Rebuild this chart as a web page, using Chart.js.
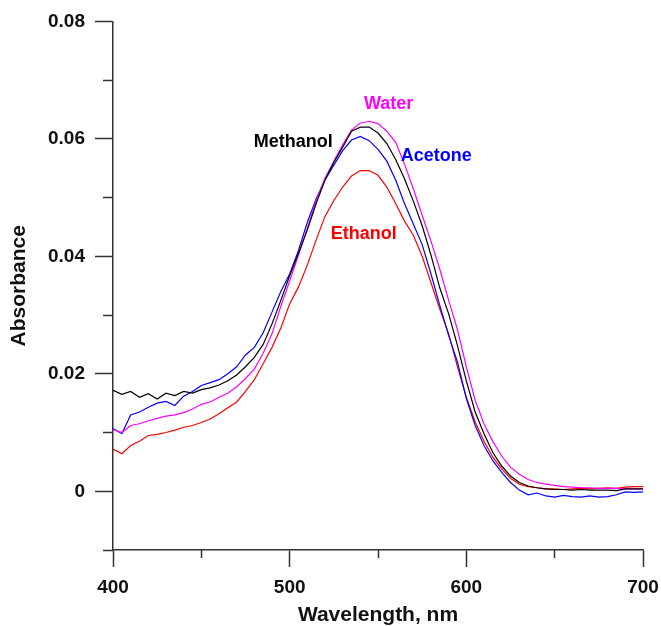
<!DOCTYPE html>
<html>
<head>
<meta charset="utf-8">
<script src="https://cdn.jsdelivr.net/npm/chart.js@4"></script>
<style>
  body { margin: 0; background: #fff; }
  canvas { display: block; }
</style>
</head>
<body>
<canvas id="grafico" width="661" height="626"></canvas>
<script>
const comprimentos = [400, 405, 410, 415, 420, 425, 430, 435, 440, 445, 450, 455, 460, 465, 470, 475, 480, 485, 490, 495,
    500, 505, 510, 515, 520, 525, 530, 535, 540, 545, 550, 555, 560, 565, 570, 575, 580, 585, 590, 595,
    600, 605, 610, 615, 620, 625, 630, 635, 640, 645, 650, 655, 660, 665, 670, 675, 680, 685, 690, 695, 700];

const metanol = [0.0172, 0.0165, 0.0170, 0.0160, 0.0166, 0.0157, 0.0167, 0.0163, 0.0170, 0.0167, 0.0173, 0.0176, 0.0181, 0.0188, 0.0198, 0.0212, 0.0228, 0.0250, 0.0285, 0.0325,
    0.0367, 0.0405, 0.0445, 0.0490, 0.0530, 0.0560, 0.0586, 0.0613, 0.0620, 0.0620, 0.0610, 0.0592, 0.0565, 0.0532, 0.0494, 0.0452, 0.0402, 0.0346, 0.0302, 0.0248,
    0.0188, 0.0135, 0.0098, 0.0066, 0.0043, 0.0026, 0.0015, 0.0009, 0.0006, 0.0004, 0.0003, 0.0003, 0.0002, 0.0003, 0.0002, 0.0002, 0.0002, 0.0001, 0.0004, 0.0004, 0.0004];

const agua = [0.0105, 0.0100, 0.0112, 0.0115, 0.0120, 0.0124, 0.0128, 0.0130, 0.0134, 0.0140, 0.0148, 0.0152, 0.0160, 0.0167, 0.0178, 0.0192, 0.0208, 0.0235, 0.0268, 0.0315,
    0.0358, 0.0402, 0.0448, 0.0495, 0.0533, 0.0562, 0.0590, 0.0615, 0.0627, 0.0630, 0.0626, 0.0613, 0.0594, 0.0557, 0.0515, 0.0470, 0.0426, 0.0378, 0.0325, 0.0275,
    0.0212, 0.0155, 0.0115, 0.0085, 0.0060, 0.0041, 0.0029, 0.0020, 0.0015, 0.0012, 0.0010, 0.0008, 0.0007, 0.0006, 0.0006, 0.0005, 0.0005, 0.0005, 0.0004, 0.0004, 0.0004];

const acetona = [0.0107, 0.0098, 0.0130, 0.0135, 0.0143, 0.0150, 0.0153, 0.0146, 0.0162, 0.0170, 0.0180, 0.0185, 0.0190, 0.0200, 0.0212, 0.0232, 0.0245, 0.0270, 0.0305, 0.0340,
    0.0370, 0.0410, 0.0458, 0.0498, 0.0530, 0.0555, 0.0580, 0.0598, 0.0604, 0.0597, 0.0582, 0.0562, 0.0530, 0.0490, 0.0455, 0.0420, 0.0370, 0.0316, 0.0265, 0.0220,
    0.0158, 0.0112, 0.0078, 0.0052, 0.0032, 0.0015, 0.0002, -0.0006, -0.0003, -0.0008, -0.0010, -0.0007, -0.0009, -0.0010, -0.0008, -0.0010, -0.0009, -0.0006, -0.0001, -0.0002, -0.0001];

const etanol = [0.0072, 0.0064, 0.0078, 0.0085, 0.0095, 0.0097, 0.0100, 0.0104, 0.0109, 0.0112, 0.0117, 0.0123, 0.0132, 0.0142, 0.0152, 0.0170, 0.0190, 0.0217, 0.0245, 0.0278,
    0.0319, 0.0348, 0.0385, 0.0428, 0.0468, 0.0495, 0.0518, 0.0537, 0.0546, 0.0546, 0.0538, 0.0518, 0.0490, 0.0460, 0.0436, 0.0400, 0.0355, 0.0310, 0.0268, 0.0212,
    0.0160, 0.0118, 0.0085, 0.0058, 0.0038, 0.0022, 0.0012, 0.0008, 0.0006, 0.0004, 0.0004, 0.0003, 0.0004, 0.0005, 0.0004, 0.0005, 0.0006, 0.0005, 0.0007, 0.0008, 0.0008];

const nomesSolventes = ["Methanol", "Water", "Acetone", "Ethanol"];
const coresSolventes = ["#000000", "#ff00ff", "#0000ff", "#ff0000"];

// onde cada rótulo fica (em unidades dos eixos)
const posicaoRotulos = [
    { x: 502, y: 0.0594 },
    { x: 556, y: 0.0659 },
    { x: 583, y: 0.0570 },
    { x: 542, y: 0.0438 }
];

const fonte = "'Liberation Sans', Arial, sans-serif";
const corEixo = "#333333";

function pontos(valores) {
    return comprimentos.map((x, i) => ({ x: x, y: valores[i] }));
}

const rotulosPlugin = {
    id: "rotulos",
    afterDatasetsDraw(chart) {
        const ctx = chart.ctx;
        ctx.save();
        ctx.font = "bold 18px " + fonte;
        ctx.textAlign = "center";
        ctx.textBaseline = "middle";
        nomesSolventes.forEach((nome, i) => {
            ctx.fillStyle = coresSolventes[i];
            ctx.fillText(nome,
                chart.scales.x.getPixelForValue(posicaoRotulos[i].x),
                chart.scales.y.getPixelForValue(posicaoRotulos[i].y));
        });
        ctx.restore();
    }
};

const ehMaiorY = v => Math.round(v * 100) % 2 === 0;
const ehMaiorX = v => Math.round(v) % 100 === 0;

new Chart(document.getElementById("grafico"), {
    type: "line",
    data: {
        datasets: [metanol, agua, acetona, etanol].map((valores, i) => ({
            label: nomesSolventes[i],
            data: pontos(valores),
            borderColor: coresSolventes[i],
            borderWidth: 1.2,
            pointRadius: 0,
            tension: 0,
            fill: false
        }))
    },
    options: {
        responsive: false,
        animation: false,
        devicePixelRatio: 1,
        layout: { padding: { top: 20, right: 18, left: 0, bottom: 0 } },
        plugins: {
            legend: { display: false },
            tooltip: { enabled: false }
        },
        scales: {
            x: {
                type: "linear",
                position: "bottom",
                weight: 1,
                min: 400,
                max: 700,
                ticks: {
                    stepSize: 50,
                    padding: 9,
                    maxRotation: 0,
                    autoSkip: false,
                    color: "#111",
                    font: { family: fonte, size: 19, weight: "bold" },
                    callback: v => ehMaiorX(v) ? String(Math.round(v)) : ""
                },
                grid: {
                    drawOnChartArea: false,
                    tickLength: 17,
                    tickWidth: 1.5,
                    tickColor: c => ehMaiorX(c.tick.value) ? corEixo : "rgba(0,0,0,0)"
                },
                border: { display: true, color: corEixo, width: 1.5 },
                title: {
                    display: true,
                    text: "Wavelength, nm",
                    color: "#111",
                    font: { family: fonte, size: 21, weight: "bold", lineHeight: 1 },
                    padding: { top: 0, bottom: 0 }
                },
                afterFit: s => { s.height = 76; s.paddingLeft = 0; s.paddingRight = 0; }
            },
            xMenor: {
                type: "linear",
                position: "bottom",
                weight: 0,
                min: 400,
                max: 700,
                ticks: { stepSize: 50, display: false },
                grid: {
                    drawOnChartArea: false,
                    tickLength: 8,
                    tickWidth: 1.5,
                    tickColor: c => ehMaiorX(c.tick.value) ? "rgba(0,0,0,0)" : corEixo
                },
                border: { display: false },
                afterFit: s => { s.height = 0; s.paddingLeft = 0; s.paddingRight = 0; }
            },
            y: {
                type: "linear",
                position: "left",
                weight: 1,
                min: -0.01,
                max: 0.08,
                ticks: {
                    stepSize: 0.01,
                    padding: 10,
                    autoSkip: false,
                    color: "#111",
                    font: { family: fonte, size: 19, weight: "bold" },
                    callback: v => {
                        const k = Math.round(v * 100);
                        if (k % 2 !== 0) return "";
                        return k === 0 ? "0" : (k / 100).toFixed(2);
                    }
                },
                grid: {
                    drawOnChartArea: false,
                    tickLength: 18,
                    tickWidth: 1.5,
                    tickColor: c => ehMaiorY(c.tick.value) ? corEixo : "rgba(0,0,0,0)"
                },
                border: { display: true, color: corEixo, width: 1.5 },
                title: {
                    display: true,
                    text: "Absorbance",
                    color: "#111",
                    font: { family: fonte, size: 21, weight: "bold", lineHeight: 1 },
                    padding: { top: 9, bottom: 0 }
                },
                afterFit: s => { s.width = 113; }
            },
            yMenor: {
                type: "linear",
                position: "left",
                weight: 0,
                min: -0.01,
                max: 0.08,
                ticks: { stepSize: 0.01, display: false },
                grid: {
                    drawOnChartArea: false,
                    tickLength: 10,
                    tickWidth: 1.5,
                    tickColor: c => ehMaiorY(c.tick.value) ? "rgba(0,0,0,0)" : corEixo
                },
                border: { display: false },
                afterFit: s => { s.width = 0; }
            }
        }
    },
    plugins: [rotulosPlugin]
});
</script>
</body>
</html>
